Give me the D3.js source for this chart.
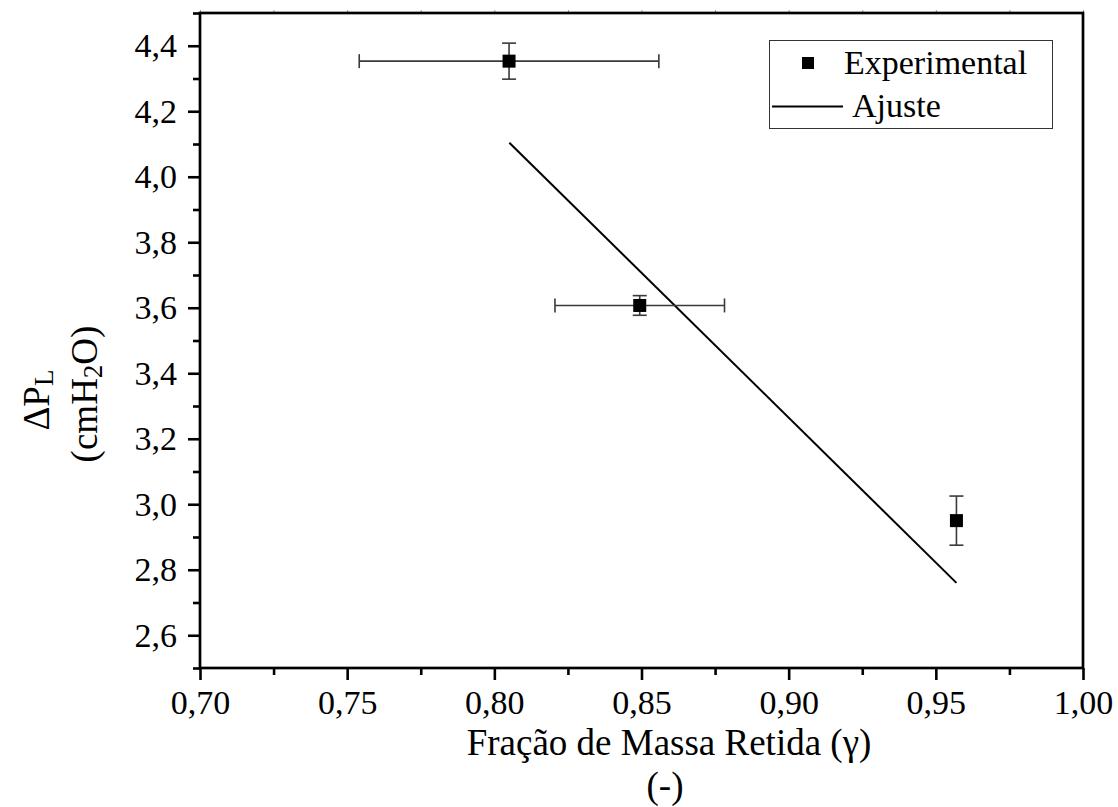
<!DOCTYPE html>
<html>
<head>
<meta charset="utf-8">
<script src="https://cdn.jsdelivr.net/npm/d3@7"></script>
<style>
  html, body { margin: 0; padding: 0; background: #fff; }
  svg, svg text { font-family: "Liberation Serif", "Times New Roman", serif !important; }
  svg { display: block; }
</style>
</head>
<body>
<svg id="chart" width="1118" height="807"></svg>
<script>
// Measured points: retained mass fraction (γ) vs. pressure drop ΔP_L
const gamma    = [0.805, 0.8494, 0.957];
const gammaErr = [0.0509, 0.0288, 0];
const deltaP   = [4.353, 3.607, 2.950];
const deltaPErr = [0.055, 0.030, 0.075];

// Linear fit endpoints
const fitGamma  = [0.8051, 0.957];
const fitDeltaP = [4.104, 2.760];

// Axis ticks
const xMajorTicks = [0.70, 0.75, 0.80, 0.85, 0.90, 0.95, 1.00];
const xMinorTicks = [0.725, 0.775, 0.825, 0.875, 0.925, 0.975];
const yMajorTicks = [2.6, 2.8, 3.0, 3.2, 3.4, 3.6, 3.8, 4.0, 4.2, 4.4];
const yMinorTicks = [2.5, 2.7, 2.9, 3.1, 3.3, 3.5, 3.7, 3.9, 4.1, 4.3, 4.5];

const legendLabels = ["Experimental", "Ajuste"];

const svg = d3.select("#chart");
const plotL = 200, plotR = 1083, plotT = 13, plotB = 668;

const x = d3.scaleLinear().domain([0.70, 1.00]).range([plotL, plotR]);
const y = d3.scaleLinear().domain([2.5, 4.5]).range([plotB, plotT]);

const fmtX = d => d3.format(".2f")(d).replace(".", ",");
const fmtY = d => d3.format(".1f")(d).replace(".", ",");

// Bottom axis: major + minor ticks
const gx = svg.append("g").attr("transform", `translate(0,${plotB})`)
  .call(d3.axisBottom(x).tickValues(xMajorTicks).tickFormat(fmtX).tickSize(12).tickPadding(10));
const gxm = svg.append("g").attr("transform", `translate(0,${plotB})`)
  .call(d3.axisBottom(x).tickValues(xMinorTicks).tickFormat("").tickSize(7));

// Left axis: major + minor ticks
const gy = svg.append("g").attr("transform", `translate(${plotL},0)`)
  .call(d3.axisLeft(y).tickValues(yMajorTicks).tickFormat(fmtY).tickSize(12).tickPadding(11));
const gym = svg.append("g").attr("transform", `translate(${plotL},0)`)
  .call(d3.axisLeft(y).tickValues(yMinorTicks).tickFormat("").tickSize(7));

// Faint ticks on the top edge
const gt = svg.append("g").attr("transform", `translate(0,${plotT})`)
  .call(d3.axisTop(x).tickValues(xMajorTicks.concat(xMinorTicks)).tickFormat("").tickSize(3));
gt.selectAll("line").attr("stroke", "#9a9a9a").attr("stroke-width", 1);

[gx, gxm, gy, gym, gt].forEach(g => g.select(".domain").remove());
[gx, gxm, gy, gym].forEach(g => g.selectAll("line").attr("stroke", "#000").attr("stroke-width", 2.6));
[gx, gxm, gy, gym, gt].forEach(g => g.attr("font-family", null));
[gx, gy].forEach(g => g.selectAll("text")
  .style("font-family", "'Liberation Serif', 'Times New Roman', serif")
  .attr("font-size", 34).attr("fill", "#000"));

// Frame
svg.append("rect")
  .attr("x", plotL).attr("y", plotT)
  .attr("width", plotR - plotL).attr("height", plotB - plotT)
  .attr("fill", "none").attr("stroke", "#000").attr("stroke-width", 2.7);

// Fit line
svg.append("path")
  .datum(fitGamma.map((g, i) => [g, fitDeltaP[i]]))
  .attr("fill", "none").attr("stroke", "#000").attr("stroke-width", 2)
  .attr("d", d3.line().x(d => x(d[0])).y(d => y(d[1])));

// Error bars
const pts = gamma.map((g, i) => ({ g, ge: gammaErr[i], p: deltaP[i], pe: deltaPErr[i] }));
const cap = 7;
const eb = svg.append("g").attr("stroke", "#3a3a3a").attr("stroke-width", 1.6).attr("fill", "none");
pts.forEach(d => {
  if (d.ge > 0) {
    eb.append("line").attr("x1", x(d.g - d.ge)).attr("x2", x(d.g + d.ge)).attr("y1", y(d.p)).attr("y2", y(d.p));
    eb.append("line").attr("x1", x(d.g - d.ge)).attr("x2", x(d.g - d.ge)).attr("y1", y(d.p) - cap).attr("y2", y(d.p) + cap);
    eb.append("line").attr("x1", x(d.g + d.ge)).attr("x2", x(d.g + d.ge)).attr("y1", y(d.p) - cap).attr("y2", y(d.p) + cap);
  }
  eb.append("line").attr("x1", x(d.g)).attr("x2", x(d.g)).attr("y1", y(d.p - d.pe)).attr("y2", y(d.p + d.pe));
  eb.append("line").attr("x1", x(d.g) - cap).attr("x2", x(d.g) + cap).attr("y1", y(d.p - d.pe)).attr("y2", y(d.p - d.pe));
  eb.append("line").attr("x1", x(d.g) - cap).attr("x2", x(d.g) + cap).attr("y1", y(d.p + d.pe)).attr("y2", y(d.p + d.pe));
});

// Square markers
const ms = 13;
svg.append("g").selectAll("rect").data(pts).join("rect")
  .attr("x", d => x(d.g) - ms / 2).attr("y", d => y(d.p) - ms / 2)
  .attr("width", ms).attr("height", ms).attr("fill", "#000");

// Legend
const lg = svg.append("g");
lg.append("rect").attr("x", 769.5).attr("y", 40.5).attr("width", 283).attr("height", 88)
  .attr("fill", "#fff").attr("stroke", "#333").attr("stroke-width", 1);
lg.append("rect").attr("x", 802).attr("y", 57).attr("width", 12).attr("height", 12).attr("fill", "#000");
lg.append("text").attr("x", 844).attr("y", 74).attr("font-size", 34).text(legendLabels[0]);
lg.append("line").attr("x1", 772).attr("x2", 843).attr("y1", 106.5).attr("y2", 106.5)
  .attr("stroke", "#000").attr("stroke-width", 2);
lg.append("text").attr("x", 852).attr("y", 117).attr("font-size", 34).text(legendLabels[1]);

// X axis title
svg.append("text").attr("x", 669).attr("y", 755).attr("text-anchor", "middle").attr("font-size", 37)
  .text("Fração de Massa Retida (γ)");
svg.append("text").attr("x", 665).attr("y", 798).attr("text-anchor", "middle").attr("font-size", 37)
  .text("(-)");

// Y axis title (two lines, rotated)
const t1 = svg.append("text").attr("transform", "translate(49,400) rotate(-90)")
  .attr("text-anchor", "middle").attr("font-size", 37);
t1.append("tspan").text("ΔP");
t1.append("tspan").attr("font-size", 27).attr("dy", 4).text("L");

const t2 = svg.append("text").attr("transform", "translate(97,394) rotate(-90)")
  .attr("text-anchor", "middle").attr("font-size", 37);
t2.append("tspan").text("(cmH");
t2.append("tspan").attr("font-size", 27).attr("dy", 5).text("2");
t2.append("tspan").attr("dy", -5).text("O)");
</script>
</body>
</html>
